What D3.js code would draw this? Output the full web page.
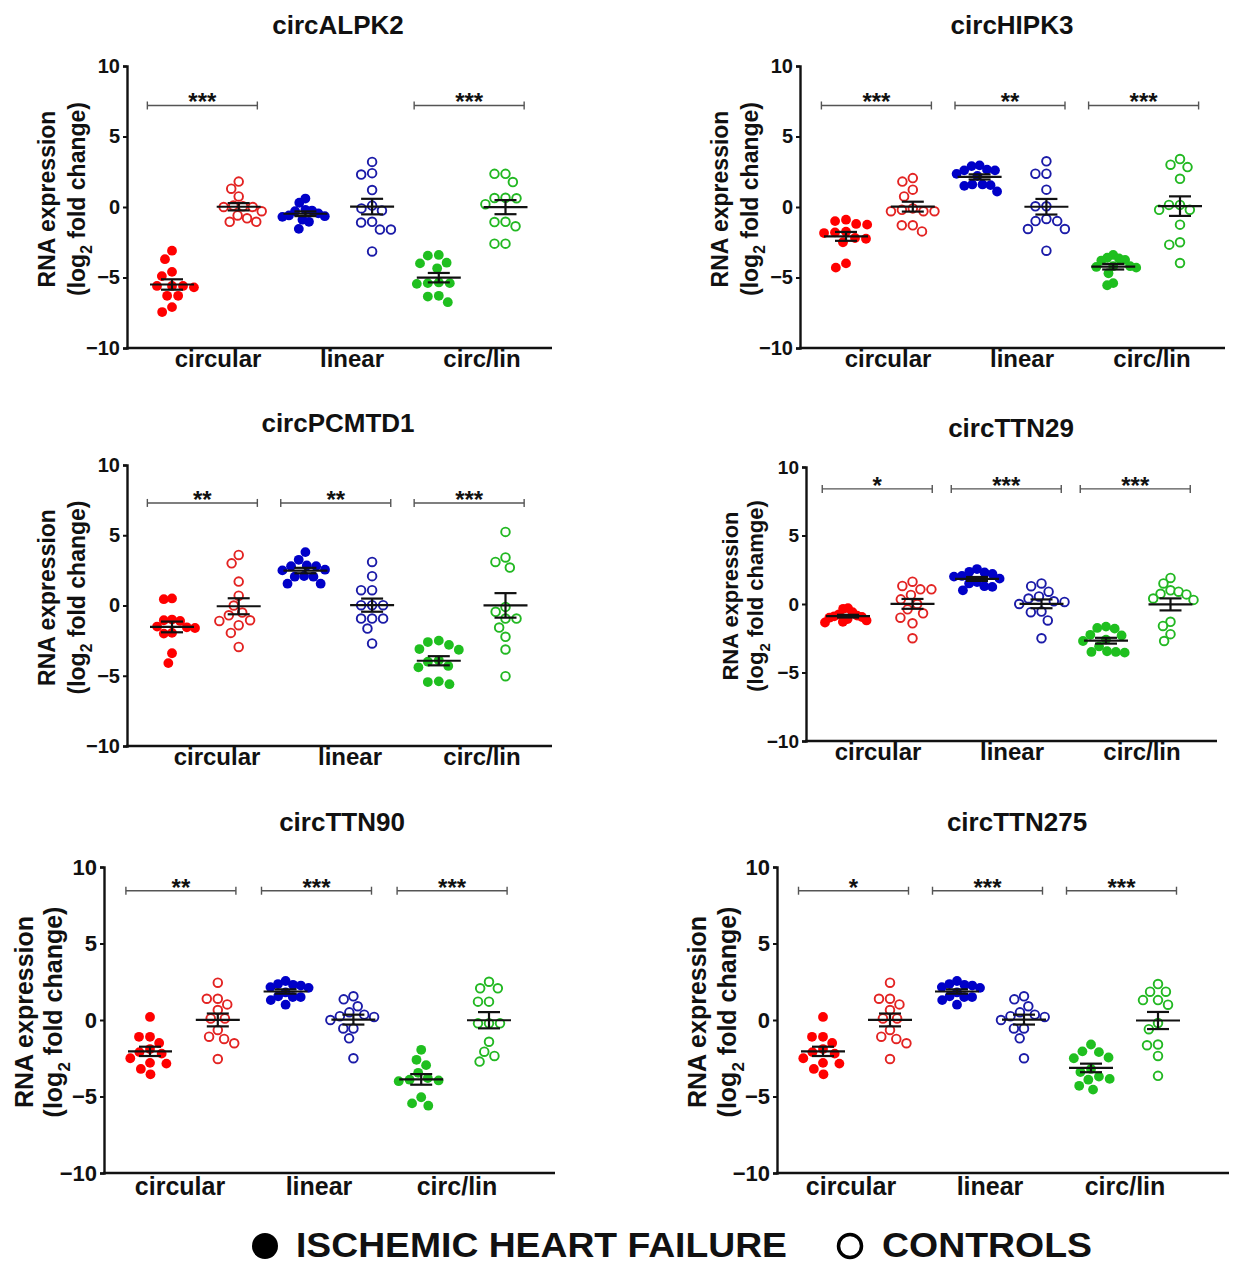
<!DOCTYPE html>
<html><head><meta charset="utf-8">
<script src="https://cdn.jsdelivr.net/npm/d3@7/dist/d3.min.js"></script>
<style>
body{margin:0;background:#fff}
svg{display:block}
text{font-family:"Liberation Sans",Arial,Helvetica,sans-serif;font-weight:bold;fill:#111}
</style>
</head><body>
<svg id="chart" width="1249" height="1266"></svg>
<script>
// ---------------- DATA ----------------
const titles = ["circALPK2","circHIPK3","circPCMTD1","circTTN29","circTTN90","circTTN275"];
const categories = ["circular","linear","circ/lin"];
const seriesNames = ["ISCHEMIC HEART FAILURE","CONTROLS"];
const yTicks = [10,5,0,-5,-10];
const yLabelLine1 = "RNA expression";
const yLabelWords = ["fold change","fold change","fold change","fold chamge","fold change","fold change"];

// order of each panel: [circular IHF, circular CTRL, linear IHF, linear CTRL, circ/lin IHF, circ/lin CTRL]
const ALPK2 = [
  [-3.1,-3.7,-4.6,-4.9,-5.6,-5.6,-5.6,-5.7,-6.3,-6.3,-7.1,-7.45],
  [1.8,1.3,0.75,0.1,0.05,0.0,0.0,-0.3,-0.6,-0.8,-1.05,-1.05],
  [0.6,0.3,-0.2,-0.25,-0.3,-0.45,-0.6,-0.65,-0.7,-0.9,-1.05,-1.55],
  [3.2,2.4,2.3,1.2,0.1,-0.1,-0.25,-1.05,-1.1,-1.6,-1.6,-3.15],
  [-3.4,-3.45,-3.95,-4.0,-4.35,-5.35,-5.4,-5.4,-5.45,-6.3,-6.35,-6.75],
  [2.35,2.35,1.77,0.65,0.64,0.62,0.2,-1.05,-1.07,-1.37,-2.6,-2.6]
];
const HIPK3 = [
  [-0.9,-1.0,-1.2,-1.25,-1.75,-1.8,-1.85,-2.2,-2.25,-2.5,-4.0,-4.3],
  [2.05,1.8,1.23,0.75,-0.1,-0.2,-0.3,-0.3,-0.3,-1.3,-1.3,-1.73],
  [2.95,2.9,2.65,2.6,2.6,2.35,2.2,1.6,1.6,1.55,1.5,1.1],
  [3.24,2.36,2.36,1.23,0.05,0.05,-1.0,-1.0,-0.85,-1.56,-1.56,-3.1],
  [-3.4,-3.6,-3.65,-3.75,-3.8,-4.2,-4.2,-4.25,-4.3,-4.7,-5.4,-5.55],
  [3.4,3.0,2.83,2.0,0.15,0.15,-0.2,-0.2,-1.25,-2.5,-2.67,-3.97]
];
const PCMTD1 = [
  [0.5,0.45,-1.0,-1.05,-1.1,-1.5,-1.55,-1.6,-1.95,-2.0,-3.4,-4.1],
  [3.6,3.0,1.7,0.7,0.0,-0.5,-0.7,-1.05,-1.1,-1.4,-1.95,-2.95],
  [3.8,3.25,2.85,2.8,2.8,2.55,2.5,2.1,2.05,2.05,1.55,1.55],
  [3.1,2.09,1.09,1.09,0.02,0.02,0.02,-0.93,-0.93,-0.93,-1.64,-2.7],
  [-2.5,-2.8,-2.6,-3.1,-3.15,-3.9,-4.0,-4.3,-4.4,-5.4,-5.45,-5.6],
  [5.24,3.42,3.1,2.7,-0.1,-0.45,-0.93,-0.93,-1.57,-2.23,-3.13,-5.03]
];
const TTN29 = [
  [-0.3,-0.35,-0.6,-0.75,-0.85,-0.9,-0.95,-1.0,-1.1,-1.2,-1.3,-1.35],
  [1.63,1.32,1.07,1.07,0.66,0.34,0.0,-0.39,-0.68,-1.0,-1.41,-2.5],
  [2.55,2.35,2.3,2.2,2.05,2.0,1.85,1.6,1.5,1.3,1.25,1.0],
  [1.5,1.3,0.9,0.4,0.55,0.2,0.15,0.0,-0.55,-0.6,-1.2,-2.5],
  [-1.65,-1.75,-1.8,-2.25,-2.3,-2.6,-2.7,-3.1,-3.45,-3.5,-3.5,-3.55],
  [1.9,1.5,1.0,0.9,0.75,0.7,0.4,0.3,-1.3,-1.6,-2.2,-2.7]
];
const TTN90 = [
  [0.2,-1.1,-1.1,-1.5,-1.9,-2.1,-2.2,-2.5,-2.8,-2.85,-3.2,-3.55],
  [2.44,1.39,1.39,1.02,0.65,0.1,0.1,-0.65,-1.09,-1.24,-1.52,-2.55],
  [2.55,2.35,2.3,2.25,2.15,2.1,1.8,1.55,1.5,1.5,1.3,1.0],
  [1.55,1.35,0.9,0.35,0.5,0.25,0.2,0.0,-0.55,-0.55,-1.2,-2.5],
  [-1.95,-2.6,-2.95,-3.45,-3.8,-3.9,-3.95,-4.0,-5.05,-5.45,-5.6],
  [2.5,2.07,2.07,1.2,1.2,-0.22,-0.22,-0.22,-1.42,-2.07,-2.35,-2.72]
];
const TTN275 = [
  [0.2,-1.1,-1.1,-1.5,-1.9,-2.1,-2.2,-2.5,-2.8,-2.85,-3.2,-3.55],
  [2.44,1.39,1.39,1.02,0.65,0.1,0.1,-0.65,-1.09,-1.24,-1.52,-2.55],
  [2.55,2.35,2.3,2.25,2.15,2.1,1.8,1.55,1.5,1.5,1.3,1.0],
  [1.55,1.35,0.9,0.35,0.5,0.25,0.2,0.0,-0.55,-0.55,-1.2,-2.5],
  [-1.6,-2.1,-2.05,-2.45,-2.5,-3.4,-3.2,-3.7,-3.85,-3.9,-4.3,-4.55],
  [2.35,1.85,1.85,1.3,1.3,1.0,-0.2,-0.6,-1.65,-1.6,-2.35,-3.65]
];
const panelData = [ALPK2, HIPK3, PCMTD1, TTN29, TTN90, TTN275];
const stars = [
  ["***","","***"],
  ["***","**","***"],
  ["**","**","***"],
  ["*","***","***"],
  ["**","***","***"],
  ["*","***","***"]
];

// ---------------- STYLE / LAYOUT ----------------
const fillColors = ["#ff0000","#0000c8","#1fbf1f"];
const strokeColors = ["#e32322","#1b1ba8","#22b822"];

const layout = [
  {ax:127, top:66,  bot:348,  right:552,  g0:172, step:66.7, tx:338,  ty:34,  lab:[218,352,482],  labY:367,  sig:7.2,  yl1:47,  yl2:77,  fsT:20, fsY:23, fsC:24},
  {ax:800, top:66,  bot:348,  right:1225, g0:846, step:66.8, tx:1012, ty:34,  lab:[888,1022,1152], labY:367,  sig:7.2,  yl1:720, yl2:750, fsT:20, fsY:23, fsC:24},
  {ax:127, top:465, bot:746,  right:552,  g0:172, step:66.7, tx:338,  ty:432, lab:[217,350,482],  labY:765,  sig:7.3,  yl1:47,  yl2:77,  fsT:20, fsY:23, fsC:24},
  {ax:806, top:467, bot:741,  right:1217, g0:848, step:64.5, tx:1011, ty:437, lab:[878,1012,1142], labY:760,  sig:8.4,  yl1:730, yl2:755, fsT:19, fsY:22, fsC:24},
  {ax:104, top:867, bot:1173, right:555,  g0:150, step:67.8, tx:342,  ty:831, lab:[180,319,457],  labY:1195, sig:8.45, yl1:24,  yl2:53,  fsT:22, fsY:25, fsC:25},
  {ax:777, top:867, bot:1173, right:1229, g0:823, step:67,   tx:1017, ty:831, lab:[851,990,1125], labY:1195, sig:8.45, yl1:697, yl2:727, fsT:22, fsY:25, fsC:25}
];

const svg = d3.select("#chart");

// deterministic column-scatter layout (beeswarm), compressed to a maximum half-width
function swarm(vals, y, D, maxW) {
  const pts = vals.map(v => ({v, y: y(v)})).sort((a, b) => a.y - b.y);
  const placed = [];
  for (const p of pts) {
    const cands = [0];
    for (const q of placed) {
      const dy = Math.abs(q.y - p.y);
      if (dy < D) {
        const dx = Math.sqrt(D * D - dy * dy);
        cands.push(q.x + dx + 0.01, q.x - dx - 0.01);
      }
    }
    cands.sort((a, b) => Math.abs(a) - Math.abs(b) || a - b);
    for (const c of cands) {
      if (placed.every(q => (q.x - c) ** 2 + (q.y - p.y) ** 2 >= D * D - 0.05)) { p.x = c; break; }
    }
    placed.push(p);
  }
  const ext = d3.max(placed, p => Math.abs(p.x));
  if (ext > maxW) placed.forEach(p => p.x *= maxW / ext);
  return placed;
}

panelData.forEach((groupsData, pi) => {
  const L = layout[pi];
  const g = svg.append("g");
  const y = d3.scaleLinear().domain([-10, 10]).range([L.bot, L.top]);
  const keys = d3.range(6);
  const x = d3.scalePoint().domain(keys).range([L.g0, L.g0 + 5 * L.step]);

  // title
  g.append("text").attr("x", L.tx).attr("y", L.ty).attr("text-anchor", "middle")
    .style("font-size", "26px").text(titles[pi]);

  // y axis
  const yAxis = d3.axisLeft(y).tickValues(yTicks).tickSize(4).tickPadding(3)
    .tickFormat(d => d < 0 ? "\u2212" + Math.abs(d) : d);
  const ga = g.append("g").attr("transform", `translate(${L.ax},0)`).call(yAxis);
  ga.select(".domain").attr("stroke", "#111").attr("stroke-width", 2.4);
  ga.selectAll(".tick line").attr("stroke", "#111").attr("stroke-width", 2);
  ga.selectAll(".tick text").style("font-size", L.fsT + "px").style("font-family", "Liberation Sans, Arial, sans-serif")
    .style("font-weight", "bold").attr("fill", "#111");

  // x axis line
  g.append("line").attr("x1", L.ax - 1).attr("x2", L.right).attr("y1", y(-10)).attr("y2", y(-10))
    .attr("stroke", "#111").attr("stroke-width", 2.4);

  // category labels
  categories.forEach((c, ci) => {
    g.append("text").attr("x", L.lab[ci]).attr("y", L.labY).attr("text-anchor", "middle")
      .style("font-size", L.fsC + "px").text(c);
  });

  // y label
  const cy = (L.top + L.bot) / 2 - 8;
  g.append("text").attr("transform", `translate(${L.yl1 + L.fsY * 0.36},${cy}) rotate(-90)`)
    .attr("text-anchor", "middle").style("font-size", L.fsY + "px").text(yLabelLine1);
  const t2 = g.append("text").attr("transform", `translate(${L.yl2 + L.fsY * 0.36},${cy}) rotate(-90)`)
    .attr("text-anchor", "middle").style("font-size", L.fsY + "px");
  t2.append("tspan").text("(log");
  t2.append("tspan").attr("dy", L.fsY * 0.3).style("font-size", (L.fsY * 0.68) + "px").text("2");
  t2.append("tspan").attr("dy", -L.fsY * 0.3).text(" " + yLabelWords[pi] + ")");

  // significance bars
  categories.forEach((c, ci) => {
    if (!stars[pi][ci]) return;
    const mid = (x(2 * ci) + x(2 * ci + 1)) / 2 - 3;
    const x1 = mid - 55, x2 = mid + 55, yb = y(L.sig);
    g.append("line").attr("x1", x1).attr("x2", x2).attr("y1", yb).attr("y2", yb)
      .attr("stroke", "#555").attr("stroke-width", 1.4);
    [x1, x2].forEach(xx => g.append("line").attr("x1", xx).attr("x2", xx).attr("y1", yb - 4).attr("y2", yb + 4)
      .attr("stroke", "#555").attr("stroke-width", 1.4));
    g.append("text").attr("x", mid).attr("y", yb + 5).attr("text-anchor", "middle")
      .style("font-size", "24px").text(stars[pi][ci]);
  });

  // points
  groupsData.forEach((vals, gi) => {
    const colorIdx = Math.floor(gi / 2);
    const isCtrl = gi % 2 === 1;
    const cx = x(gi);
    const pts = swarm(vals, y, 11, 23);
    g.append("g").selectAll("circle").data(pts).join("circle")
      .attr("cx", d => cx + d.x).attr("cy", d => d.y)
      .attr("r", isCtrl ? 4.3 : 4.9)
      .attr("fill", isCtrl ? "#fff" : fillColors[colorIdx])
      .attr("stroke", isCtrl ? strokeColors[colorIdx] : "none")
      .attr("stroke-width", isCtrl ? 1.9 : 0);

    // mean and SEM
    const m = d3.mean(vals);
    const sem = d3.deviation(vals) / Math.sqrt(vals.length);
    const eg = g.append("g").attr("stroke", "#111").attr("stroke-width", 2.2);
    eg.append("line").attr("x1", cx - 22).attr("x2", cx + 22).attr("y1", y(m)).attr("y2", y(m));
    eg.append("line").attr("x1", cx).attr("x2", cx).attr("y1", y(m + sem)).attr("y2", y(m - sem));
    [m + sem, m - sem].forEach(v => eg.append("line").attr("x1", cx - 11).attr("x2", cx + 11)
      .attr("y1", y(v)).attr("y2", y(v)));
  });
});

// legend
const lg = svg.append("g");
lg.append("circle").attr("cx", 265).attr("cy", 1246).attr("r", 13).attr("fill", "#000");
lg.append("text").attr("x", 296).attr("y", 1257).attr("textLength", 491).attr("lengthAdjust", "spacingAndGlyphs")
  .style("font-size", "35px").attr("fill", "#000").text(seriesNames[0]);
lg.append("circle").attr("cx", 850).attr("cy", 1246).attr("r", 11.5).attr("fill", "#fff")
  .attr("stroke", "#000").attr("stroke-width", 3.5);
lg.append("text").attr("x", 882).attr("y", 1257).attr("textLength", 210).attr("lengthAdjust", "spacingAndGlyphs")
  .style("font-size", "35px").attr("fill", "#000").text(seriesNames[1]);
</script>
</body></html>
